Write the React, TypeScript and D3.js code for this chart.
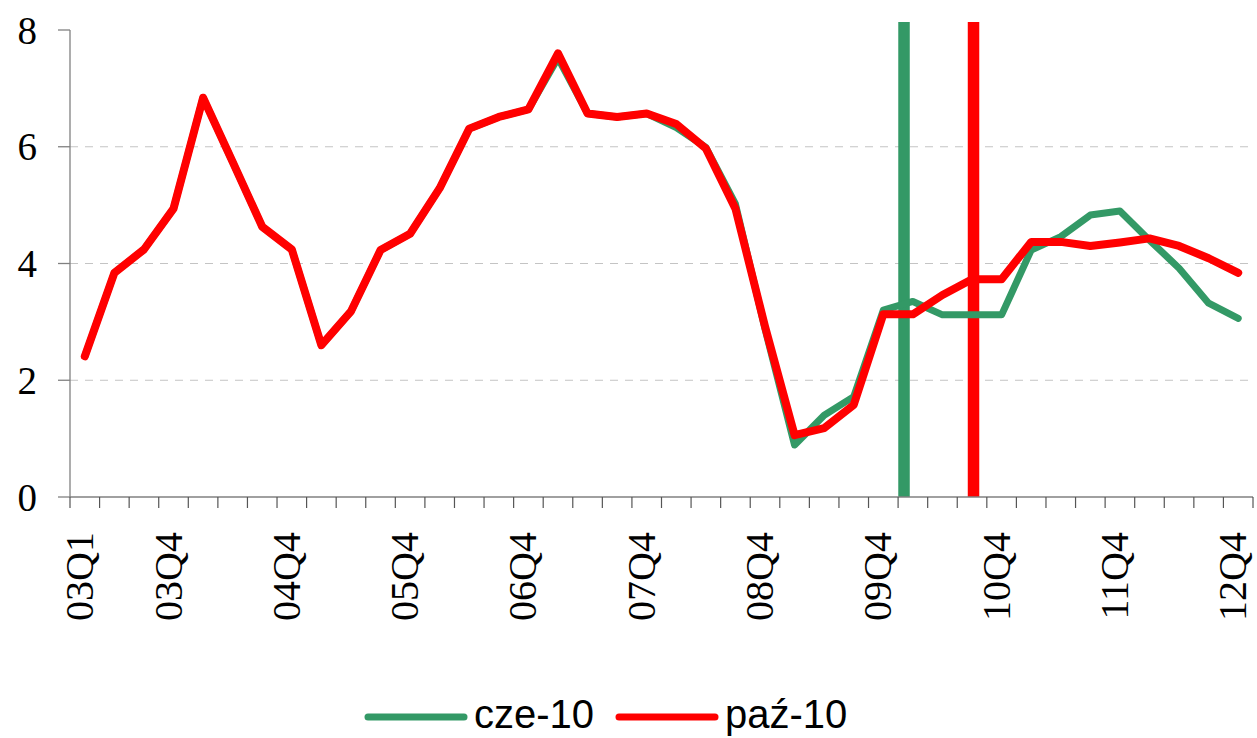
import React from "react";
import * as d3 from "d3";

// kwartały 03Q1 .. 12Q4
const categories = [
    "03Q1", "03Q2", "03Q3", "03Q4", "04Q1", "04Q2", "04Q3", "04Q4",
    "05Q1", "05Q2", "05Q3", "05Q4", "06Q1", "06Q2", "06Q3", "06Q4",
    "07Q1", "07Q2", "07Q3", "07Q4", "08Q1", "08Q2", "08Q3", "08Q4",
    "09Q1", "09Q2", "09Q3", "09Q4", "10Q1", "10Q2", "10Q3", "10Q4",
    "11Q1", "11Q2", "11Q3", "11Q4", "12Q1", "12Q2", "12Q3", "12Q4",
];
const shownLabels = ["03Q1", "03Q4", "04Q4", "05Q4", "06Q4", "07Q4", "08Q4", "09Q4", "10Q4", "11Q4", "12Q4"];

const cze10 = [
    2.41, 3.84, 4.24, 4.94, 6.84, 5.74, 4.63, 4.24, 2.60, 3.18,
    4.23, 4.51, 5.29, 6.31, 6.51, 6.64, 7.52, 6.57, 6.51, 6.57,
    6.33, 5.99, 5.02, 2.88, 0.89, 1.40, 1.72, 3.20, 3.35, 3.12,
    3.12, 3.12, 4.23, 4.46, 4.83, 4.90, 4.40, 3.92, 3.32, 3.06,
];
const paz10 = [
    2.41, 3.84, 4.24, 4.94, 6.84, 5.74, 4.63, 4.24, 2.60, 3.18,
    4.23, 4.51, 5.29, 6.31, 6.51, 6.64, 7.60, 6.57, 6.51, 6.57,
    6.39, 5.97, 4.94, 2.92, 1.06, 1.18, 1.58, 3.13, 3.13, 3.46,
    3.73, 3.73, 4.37, 4.37, 4.30, 4.36, 4.43, 4.30, 4.09, 3.84,
];
const yTicks = [0, 2, 4, 6, 8];
// pionowe linie (pozycja w jednostkach kwartałów od lewej krawędzi)
const markerPos = [28.2, 30.55];

const series = [
    { name: "cze-10", values: cze10, color: "#339966", width: 7 },
    { name: "paź-10", values: paz10, color: "#ff0000", width: 8 },
];

const W = 1257;
const H = 738;
const left = 70;
const right = 1253;
const top = 30;
const bottom = 497;
const serif = "'Liberation Serif', 'Times New Roman', serif";

const App: React.FC = () => {
    const x = d3.scaleBand<string>().domain(categories).range([left, right]).padding(0);
    const xIdx = d3.scaleLinear().domain([0, categories.length]).range([left, right]);
    const y = d3.scaleLinear().domain([0, 8]).range([bottom, top]);
    const cx = (c: string) => (x(c) as number) + x.bandwidth() / 2;

    const line = d3
        .line<number>()
        .x((_, i) => cx(categories[i]))
        .y((d) => y(d));

    const boundaries = d3.range(categories.length + 1).map((i) => xIdx(i));

    return (
        <svg width={W} height={H} style={{ position: "absolute", left: 0, top: 0 }}>
            <rect width={W} height={H} fill="#fff" />
            {/* siatka */}
            {yTicks.filter((t) => t > 0 && t < 8).map((t) => (
                <line key={"g" + t} x1={left} x2={right} y1={y(t)} y2={y(t)}
                    stroke="#c4c4c4" strokeWidth={1} strokeDasharray="8,7" />
            ))}
            {/* oś Y */}
            <line x1={left} x2={left} y1={top} y2={bottom} stroke="#808080" strokeWidth={1.3} />
            {yTicks.map((t) => (
                <g key={"y" + t}>
                    <line x1={left - 12} x2={left} y1={y(t)} y2={y(t)} stroke="#808080" strokeWidth={1.3} />
                    <text x={37} y={y(t)} dy="0.35em" textAnchor="end"
                        fontFamily={serif} fontSize={39} fill="#000">
                        {t}
                    </text>
                </g>
            ))}
            {/* pionowe linie */}
            {markerPos.map((p, i) => (
                <line key={"m" + i} x1={xIdx(p)} x2={xIdx(p)} y1={22} y2={bottom}
                    stroke={series[i].color} strokeWidth={11.5} />
            ))}
            {/* oś X */}
            <line x1={left} x2={right} y1={bottom} y2={bottom} stroke="#808080" strokeWidth={1.3} />
            {boundaries.map((bx, i) => (
                <line key={"t" + i} x1={bx} x2={bx} y1={bottom} y2={bottom + 11} stroke="#555" strokeWidth={1.2} />
            ))}
            {shownLabels.map((c) => (
                <text key={c} transform={`translate(${cx(c)},532) rotate(-90)`} dy="0.2em" textAnchor="end"
                    fontFamily={serif} fontSize={40} fill="#000">
                    {c}
                </text>
            ))}
            {/* serie */}
            {series.map((s) => (
                <path key={s.name} d={line(s.values) || ""} fill="none" stroke={s.color}
                    strokeWidth={s.width} strokeLinejoin="round" strokeLinecap="round" />
            ))}
            {/* legenda */}
            {series.map((s, i) => {
                const lx = i === 0 ? 368 : 619;
                return (
                    <g key={"l" + s.name}>
                        <line x1={lx} x2={lx + 96} y1={717} y2={717} stroke={s.color} strokeWidth={7} strokeLinecap="round" />
                        <text x={lx + 106} y={728} fontFamily="'Liberation Sans', Arial, sans-serif" fontSize={40} fill="#000">
                            {s.name}
                        </text>
                    </g>
                );
            })}
        </svg>
    );
};

export default App;
